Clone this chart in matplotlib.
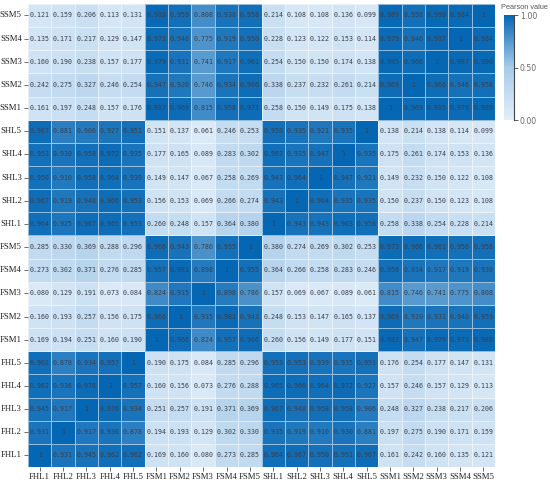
import numpy as np
import matplotlib
matplotlib.use('Agg')
import matplotlib.pyplot as plt
import seaborn as sns
from matplotlib.colors import LinearSegmentedColormap

labels = ['FHL1', 'FHL2', 'FHL3', 'FHL4', 'FHL5',
          'FSM1', 'FSM2', 'FSM3', 'FSM4', 'FSM5',
          'SHL1', 'SHL2', 'SHL3', 'SHL4', 'SHL5',
          'SSM1', 'SSM2', 'SSM3', 'SSM4', 'SSM5']

# rows FHL1..FHL5, columns FHL1..SSM5
fhl_rows = [
    [1, 0.931, 0.945, 0.962, 0.962, 0.169, 0.160, 0.080, 0.273, 0.285, 0.964, 0.967, 0.950, 0.951, 0.967, 0.161, 0.242, 0.160, 0.135, 0.121],
    [0.931, 1, 0.917, 0.936, 0.878, 0.194, 0.193, 0.129, 0.302, 0.330, 0.935, 0.919, 0.910, 0.930, 0.881, 0.197, 0.275, 0.190, 0.171, 0.159],
    [0.945, 0.917, 1, 0.976, 0.934, 0.251, 0.257, 0.191, 0.371, 0.369, 0.967, 0.948, 0.958, 0.958, 0.906, 0.248, 0.327, 0.238, 0.217, 0.206],
    [0.962, 0.936, 0.976, 1, 0.957, 0.160, 0.156, 0.073, 0.276, 0.288, 0.965, 0.966, 0.964, 0.972, 0.927, 0.157, 0.246, 0.157, 0.129, 0.113],
    [0.962, 0.878, 0.934, 0.957, 1, 0.190, 0.175, 0.084, 0.285, 0.296, 0.953, 0.953, 0.939, 0.935, 0.951, 0.176, 0.254, 0.177, 0.147, 0.131],
]
fsm_rows = [
    [0.169, 0.194, 0.251, 0.160, 0.190, 1, 0.966, 0.824, 0.957, 0.966, 0.260, 0.156, 0.149, 0.177, 0.151, 0.987, 0.947, 0.979, 0.973, 0.988],
    [0.160, 0.193, 0.257, 0.156, 0.175, 0.966, 1, 0.915, 0.981, 0.943, 0.248, 0.153, 0.147, 0.165, 0.137, 0.969, 0.920, 0.931, 0.940, 0.959],
    [0.080, 0.129, 0.191, 0.073, 0.084, 0.824, 0.915, 1, 0.898, 0.786, 0.157, 0.069, 0.067, 0.089, 0.061, 0.815, 0.746, 0.741, 0.775, 0.808],
    [0.273, 0.302, 0.371, 0.276, 0.285, 0.957, 0.981, 0.898, 1, 0.955, 0.364, 0.266, 0.258, 0.283, 0.246, 0.958, 0.934, 0.917, 0.919, 0.930],
    [0.285, 0.330, 0.369, 0.288, 0.296, 0.966, 0.943, 0.786, 0.955, 1, 0.380, 0.274, 0.269, 0.302, 0.253, 0.973, 0.966, 0.961, 0.950, 0.958],
]
shl_rows = [
    [0.964, 0.925, 0.967, 0.965, 0.953, 0.260, 0.248, 0.157, 0.364, 0.380, 1, 0.943, 0.943, 0.963, 0.958, 0.258, 0.338, 0.254, 0.228, 0.214],
    [0.967, 0.919, 0.948, 0.966, 0.953, 0.156, 0.153, 0.069, 0.266, 0.274, 0.943, 1, 0.964, 0.935, 0.935, 0.150, 0.237, 0.150, 0.123, 0.108],
    [0.950, 0.910, 0.958, 0.964, 0.939, 0.149, 0.147, 0.067, 0.258, 0.269, 0.943, 0.964, 1, 0.947, 0.921, 0.149, 0.232, 0.150, 0.122, 0.108],
    [0.953, 0.930, 0.958, 0.972, 0.935, 0.177, 0.165, 0.089, 0.283, 0.302, 0.963, 0.935, 0.947, 1, 0.935, 0.175, 0.261, 0.174, 0.153, 0.136],
    [0.967, 0.881, 0.906, 0.927, 0.951, 0.151, 0.137, 0.061, 0.246, 0.253, 0.958, 0.935, 0.921, 0.935, 1, 0.138, 0.214, 0.138, 0.114, 0.099],
]
ssm_rows = [
    [0.161, 0.197, 0.248, 0.157, 0.176, 0.987, 0.969, 0.815, 0.958, 0.973, 0.258, 0.150, 0.149, 0.175, 0.138, 1, 0.969, 0.985, 0.979, 0.989],
    [0.242, 0.275, 0.327, 0.246, 0.254, 0.947, 0.920, 0.746, 0.934, 0.966, 0.338, 0.237, 0.232, 0.261, 0.214, 0.969, 1, 0.966, 0.946, 0.958],
    [0.160, 0.190, 0.238, 0.157, 0.177, 0.979, 0.931, 0.741, 0.917, 0.961, 0.254, 0.150, 0.150, 0.174, 0.138, 0.985, 0.966, 1, 0.987, 0.990],
    [0.135, 0.171, 0.217, 0.129, 0.147, 0.973, 0.940, 0.775, 0.919, 0.950, 0.228, 0.123, 0.122, 0.153, 0.114, 0.979, 0.946, 0.987, 1, 0.984],
    [0.121, 0.159, 0.206, 0.113, 0.131, 0.988, 0.959, 0.808, 0.938, 0.958, 0.214, 0.108, 0.108, 0.136, 0.099, 0.989, 0.958, 0.990, 0.984, 1],
]

data = np.array(fhl_rows + fsm_rows + shl_rows + ssm_rows, dtype=float)
annot = np.array([['1' if v == 1 else '%.3f' % v for v in row] for row in data])

cmap = LinearSegmentedColormap.from_list('pearson', ['#e2eef9', '#a8cbe9', '#0567b4'])

fig = plt.figure(figsize=(5.5, 4.88), dpi=100)
ax = fig.add_axes([0.051, 0.043, 0.849, 0.949])
cax = fig.add_axes([0.916, 0.754, 0.018, 0.215])

sns.heatmap(data, ax=ax, cbar_ax=cax, cmap=cmap, vmin=0, vmax=1,
            annot=annot, fmt='', linewidths=0.6, linecolor=(1, 1, 1, 0.55),
            annot_kws={'fontsize': 4.8, 'family': 'DejaVu Sans Mono', 'color': '#3a3f4a'})
ax.invert_yaxis()

ticks = np.arange(len(labels)) + 0.5
ax.set_xticks(ticks)
ax.set_yticks(ticks)
ax.set_xticklabels(labels, rotation=0, fontfamily='Liberation Serif', fontsize=6.3, color='#222222')
ax.set_yticklabels(labels, rotation=0, fontfamily='Liberation Serif', fontsize=6.3, color='#222222')
ax.tick_params(length=3, width=0.6, color='#555555', pad=1.5)

cbar = ax.collections[0].colorbar
cbar.set_ticks([0, 0.5, 1])
cbar.set_ticklabels(['0.00', '0.50', '1.00'])
cbar.outline.set_visible(False)
cax.plot([1, 1], [0, 1], transform=cax.transAxes, color='#444444', lw=0.8, clip_on=False)
cax.tick_params(labelsize=5.6, labelcolor='#666666', length=3, width=0.6, color='#444444', pad=1.5)
fig.text(0.911, 0.984, 'Pearson value', fontsize=5.3, fontfamily='Liberation Sans',
         color='#555555', ha='left', va='center')

plt.savefig('out.png', dpi=100)
